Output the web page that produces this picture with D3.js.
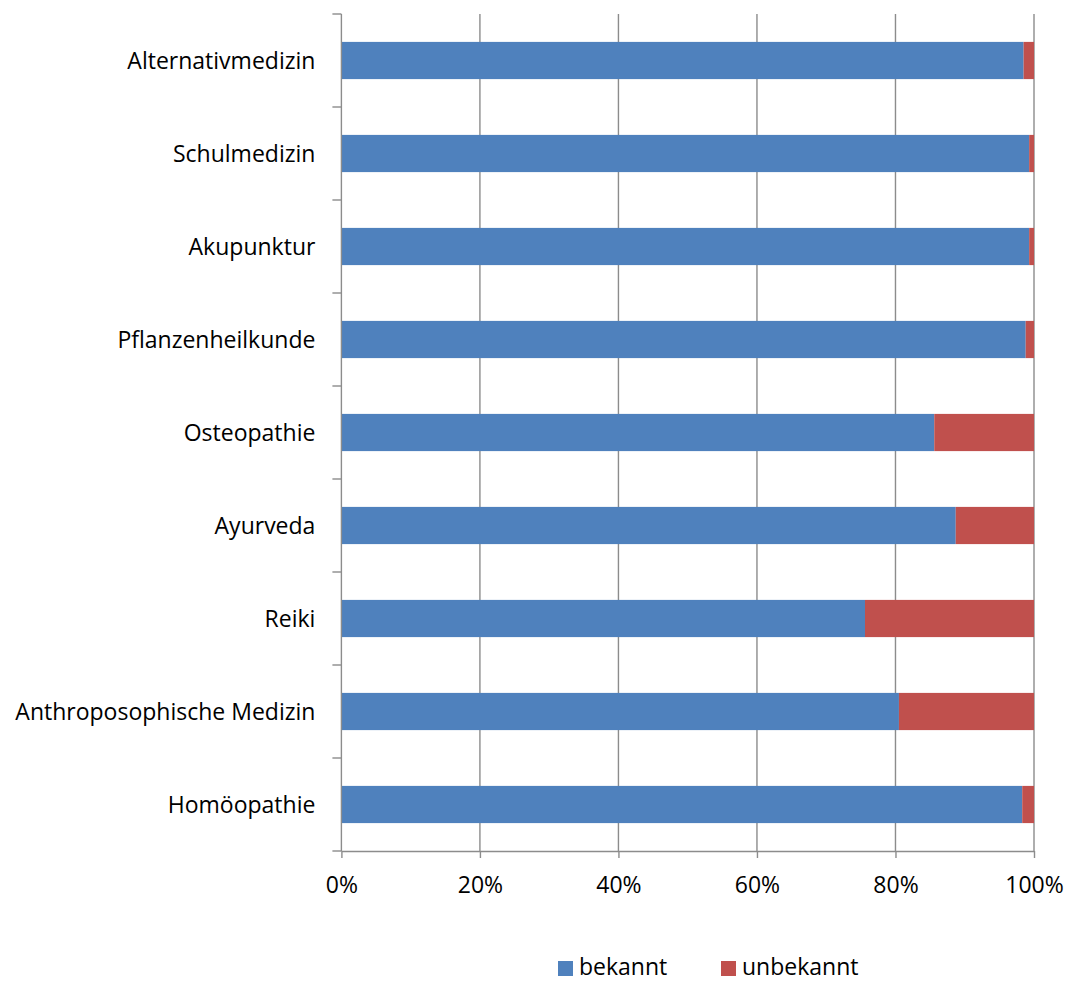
<!DOCTYPE html>
<html>
<head>
<meta charset="utf-8">
<script src="https://cdn.jsdelivr.net/npm/d3@7"></script>
<style>
  html, body { margin: 0; padding: 0; background: #fff; }
  svg text { font-family: "Open Sans", Lato, sans-serif; fill: #000; }
</style>
</head>
<body>
<svg id="chart" width="1072" height="982"></svg>
<script>
// Bekanntheit verschiedener Heilmethoden (Anteile in %)
const categories = [
  "Alternativmedizin",
  "Schulmedizin",
  "Akupunktur",
  "Pflanzenheilkunde",
  "Osteopathie",
  "Ayurveda",
  "Reiki",
  "Anthroposophische Medizin",
  "Homöopathie"
];
const bekannt   = [98.5, 99.3, 99.3, 98.8, 85.6, 88.7, 75.6, 80.5, 98.3];
const unbekannt = [1.5, 0.7, 0.7, 1.2, 14.4, 11.3, 24.4, 19.5, 1.7];
const seriesNames = ["bekannt", "unbekannt"];
const seriesColors = ["#4F81BD", "#C0504D"];
const xTicks = [0, 20, 40, 60, 80, 100];

const svg = d3.select("#chart");
const plotLeft = 341.4, plotRight = 1034, plotTop = 14, plotBottom = 851;
const fontFamily = "'Open Sans', Lato, sans-serif";
const fontSize = "23px";

const rows = categories.map((c, i) => ({ cat: c, bekannt: bekannt[i], unbekannt: unbekannt[i] }));
const stack = d3.stack().keys(seriesNames)(rows);

const x = d3.scaleLinear().domain([0, 100]).range([plotLeft, plotRight]);
const y = d3.scaleBand().domain(categories).range([plotTop, plotBottom]).paddingInner(0.6).paddingOuter(0.3);
const color = d3.scaleOrdinal().domain(seriesNames).range(seriesColors);
const axisGrey = "#8c8c8c";

// vertical gridlines
svg.append("g")
  .selectAll("line")
  .data(xTicks.slice(1))
  .join("line")
  .attr("x1", d => x(d)).attr("x2", d => x(d))
  .attr("y1", plotTop).attr("y2", plotBottom)
  .attr("stroke", axisGrey).attr("stroke-width", 1.4);

// stacked bars
svg.append("g")
  .selectAll("g")
  .data(stack)
  .join("g")
  .attr("fill", d => color(d.key))
  .selectAll("rect")
  .data(d => d)
  .join("rect")
  .attr("x", d => x(d[0]))
  .attr("width", d => x(d[1]) - x(d[0]))
  .attr("y", d => y(d.data.cat))
  .attr("height", y.bandwidth());

// x axis
const xAxis = svg.append("g")
  .attr("transform", `translate(0,${plotBottom})`)
  .call(d3.axisBottom(x).tickValues(xTicks).tickFormat(d => d + "%").tickSize(7).tickPadding(19).tickSizeOuter(0));
xAxis.select(".domain").attr("stroke", axisGrey).attr("stroke-width", 1.4);
xAxis.selectAll(".tick line").attr("stroke", axisGrey).attr("stroke-width", 1.4);
xAxis.selectAll(".tick text").style("font-size", fontSize).style("font-family", fontFamily);

// y axis: line at 0% with ticks on category boundaries
const yAxisG = svg.append("g");
yAxisG.append("line")
  .attr("x1", plotLeft).attr("x2", plotLeft).attr("y1", plotTop).attr("y2", plotBottom)
  .attr("stroke", axisGrey).attr("stroke-width", 1.4);
const boundaries = d3.range(categories.length + 1).map(i => plotTop + i * (plotBottom - plotTop) / categories.length);
yAxisG.selectAll("line.tk")
  .data(boundaries)
  .join("line")
  .attr("class", "tk")
  .attr("x1", plotLeft - 9).attr("x2", plotLeft)
  .attr("y1", d => d).attr("y2", d => d)
  .attr("stroke", axisGrey).attr("stroke-width", 1.4);
yAxisG.selectAll("text")
  .data(categories)
  .join("text")
  .attr("x", plotLeft - 26)
  .attr("y", d => y(d) + y.bandwidth() / 2)
  .attr("dy", "0.35em")
  .attr("text-anchor", "end")
  .style("font-size", fontSize)
  .text(d => d);

// legend
const legend = svg.append("g");
const legendX = [558, 721];
seriesNames.forEach((name, i) => {
  legend.append("rect")
    .attr("x", legendX[i]).attr("y", 961)
    .attr("width", 15).attr("height", 15)
    .attr("fill", seriesColors[i]);
  legend.append("text")
    .attr("x", legendX[i] + 21).attr("y", 975)
    .style("font-size", fontSize)
    .text(name);
});
</script>
</body>
</html>
